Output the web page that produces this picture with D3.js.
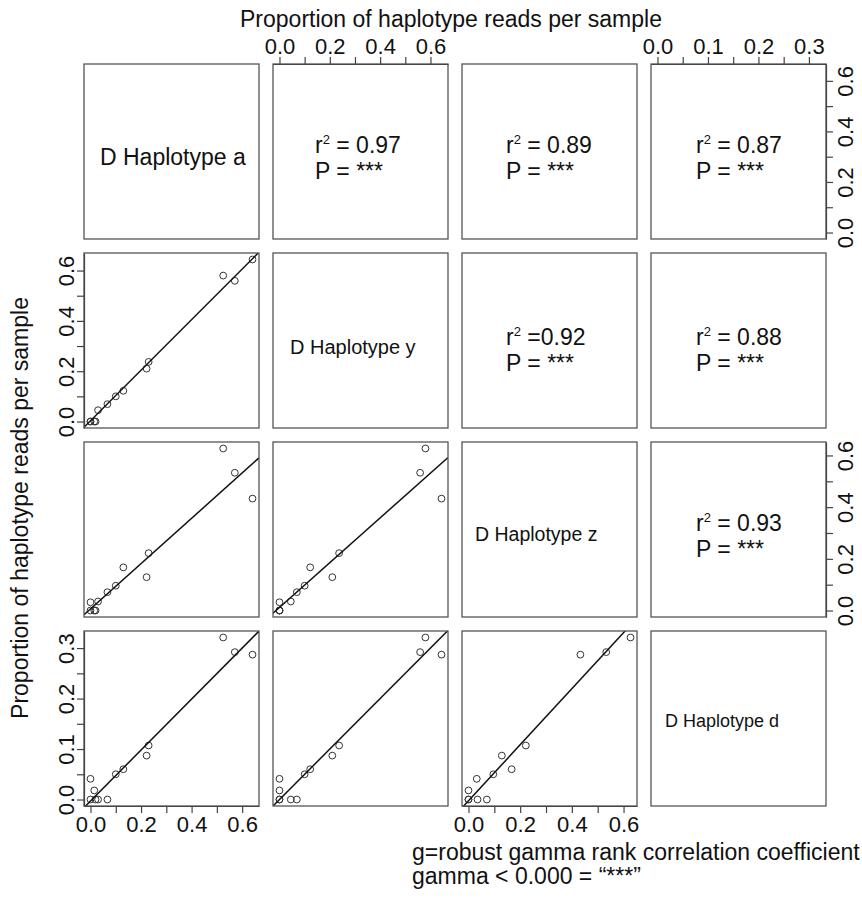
<!DOCTYPE html>
<html>
<head>
<meta charset="utf-8">
<script src="https://cdn.jsdelivr.net/npm/d3@7"></script>
<style>
  body { margin: 0; background: #fff; }
  svg text { font-family: "Liberation Sans", Arial, sans-serif; fill: #111; }
</style>
</head>
<body>
<div id="chart"></div>
<script>
// Layout of the pairs matrix
const w = 862;
const h = 900;
const gridLeft = 84;
const gridTop = 64;
const cell = 175;
const gap = 14;

// Proportion of haplotype reads per sample (13 samples)
const hapA = [0.525, 0.571, 0.641, 0.230, 0.222, 0.130, 0.100, 0.067, 0.030, 0.000, 0.015, 0.000, 0.020];
const hapY = [0.580, 0.559, 0.644, 0.237, 0.210, 0.122, 0.100, 0.069, 0.045, 0.000, 0.000, 0.000, 0.000];
const hapZ = [0.627, 0.533, 0.433, 0.222, 0.129, 0.167, 0.096, 0.071, 0.035, 0.032, 0.000, 0.000, 0.000];
const hapD = [0.321, 0.292, 0.287, 0.107, 0.087, 0.060, 0.050, 0.000, 0.000, 0.041, 0.018, 0.000, 0.000];

const variables = [hapA, hapY, hapZ, hapD];
const diagLabels = ["D Haplotype a", "D Haplotype y", "D Haplotype z", "D Haplotype d"];

// fitted lines in the lower panels: row, col, intercept, slope
const fitRow = [1, 2, 3, 2, 3, 3];
const fitCol = [0, 0, 0, 1, 1, 2];
const fitIntercept = [0.003, 0.006, -0.003, 0.012, 0.000, -0.0025];
const fitSlope = [1.005, 0.877, 0.505, 0.866, 0.500, 0.555];

// upper panels: r squared and significance
const corrRow = [0, 0, 0, 1, 1, 2];
const corrCol = [1, 2, 3, 2, 3, 3];
const corrText = ["= 0.97", "= 0.89", "= 0.87", "=0.92", "= 0.88", "= 0.93"];
const corrP = ["P = ***", "P = ***", "P = ***", "P = ***", "P = ***", "P = ***"];

// tick values
const ticksWide = [0, 0.1, 0.2, 0.3, 0.4, 0.5, 0.6];
const labelsWide = [0, 0.2, 0.4, 0.6];
const ticksNarrow = [0, 0.05, 0.1, 0.15, 0.2, 0.25, 0.3];
const labelsNarrow = [0, 0.1, 0.2, 0.3];

const titleText = "Proportion of haplotype reads per sample";
const noteLines = ["g=robust gamma rank correlation coefficient", "gamma < 0.000 = \u201c***\u201d"];

// placement of the diagonal labels inside their boxes (left edge, baseline, size)
const diagX = [16, 17, 13, 14];
const diagY = [101, 101, 99, 96];
const diagSize = [23, 20, 19.5, 18];

const svg = d3.select("#chart").append("svg")
  .attr("width", w)
  .attr("height", h);

const cellX = i => gridLeft + i * (cell + gap);
const cellY = i => gridTop + i * (cell + gap);

// one scale per variable, range padded by 4% like R's pairs()
function padded(values) {
  const ext = d3.extent(values);
  const pad = (ext[1] - ext[0]) * 0.04;
  return [ext[0] - pad, ext[1] + pad];
}
const xScales = variables.map(v => d3.scaleLinear().domain(padded(v)).range([0, cell]));
const yScales = variables.map(v => d3.scaleLinear().domain(padded(v)).range([cell, 0]));

// clip path for the lines
svg.append("defs").append("clipPath").attr("id", "cellClip")
  .append("rect").attr("width", cell).attr("height", cell);

const cells = [];
for (let r = 0; r < 4; r++) {
  for (let c = 0; c < 4; c++) cells.push({ r, c });
}

const panels = svg.selectAll("g.panel")
  .data(cells)
  .enter()
  .append("g")
  .attr("class", "panel")
  .attr("transform", d => `translate(${cellX(d.c)},${cellY(d.r)})`);

// scatter points in the lower panels
panels.filter(d => d.r > d.c).each(function (d) {
  const g = d3.select(this);
  const xs = variables[d.c];
  const ys = variables[d.r];
  g.selectAll("circle")
    .data(xs.map((x, i) => [x, ys[i]]))
    .enter()
    .append("circle")
    .attr("cx", p => xScales[d.c](p[0]))
    .attr("cy", p => yScales[d.r](p[1]))
    .attr("r", 3.4)
    .attr("fill", "none")
    .attr("stroke", "#333")
    .attr("stroke-width", 1);
});

// fitted lines
fitRow.forEach((r, i) => {
  const c = fitCol[i];
  const xd = xScales[c].domain();
  const g = panels.filter(d => d.r === r && d.c === c);
  g.append("line")
    .attr("clip-path", "url(#cellClip)")
    .attr("x1", xScales[c](xd[0]))
    .attr("y1", yScales[r](fitIntercept[i] + fitSlope[i] * xd[0]))
    .attr("x2", xScales[c](xd[1]))
    .attr("y2", yScales[r](fitIntercept[i] + fitSlope[i] * xd[1]))
    .attr("stroke", "#111")
    .attr("stroke-width", 1.5);
});

// panel boxes
panels.append("rect")
  .attr("width", cell)
  .attr("height", cell)
  .attr("fill", "none")
  .attr("stroke", "#555")
  .attr("stroke-width", 1.3);

// diagonal labels
panels.filter(d => d.r === d.c).append("text")
  .attr("x", d => diagX[d.r])
  .attr("y", d => diagY[d.r])
  .style("font-size", d => diagSize[d.r] + "px")
  .text(d => diagLabels[d.r]);

// correlation text
corrRow.forEach((r, i) => {
  const c = corrCol[i];
  const g = panels.filter(d => d.r === r && d.c === c);
  const x0 = c === 1 ? 42 : (c === 2 ? 44 : 45);
  const y0 = r === 1 ? 92 : 89;
  const t = g.append("text")
    .attr("x", x0)
    .attr("y", y0)
    .style("font-size", "23px");
  t.append("tspan").text("r");
  t.append("tspan").attr("dy", -9).style("font-size", "13px").text("2");
  t.append("tspan").attr("dy", 9).text(" " + corrText[i]);
  g.append("text")
    .attr("x", x0)
    .attr("y", y0 + 26)
    .style("font-size", "23px")
    .text(corrP[i]);
});

// axes
function styleAxis(sel) {
  sel.selectAll("path").attr("stroke", "#444").attr("stroke-width", 1.2);
  sel.selectAll("line").attr("stroke", "#444").attr("stroke-width", 1.2);
  sel.selectAll("text")
    .style("font-size", "22px")
    .style("font-family", "\"Liberation Sans\", Arial, sans-serif")
    .attr("fill", "#111");
}
const fmt = labels => v => labels.some(l => Math.abs(l - v) < 1e-9) ? d3.format(".1f")(v) : "";
const ticksFor = i => i === 3 ? [ticksNarrow, labelsNarrow] : [ticksWide, labelsWide];

function axisFor(kind, i, scale) {
  const [tv, lv] = ticksFor(i);
  return kind(scale).tickValues(tv).tickFormat(fmt(lv)).tickSize(7).tickSizeOuter(0);
}

// top: columns 2 and 4
[1, 3].forEach(c => {
  const g = svg.append("g")
    .attr("transform", `translate(${cellX(c)},${gridTop})`)
    .call(axisFor(d3.axisTop, c, xScales[c]).tickPadding(3));
  styleAxis(g);
});
// bottom: columns 1 and 3
[0, 2].forEach(c => {
  const g = svg.append("g")
    .attr("transform", `translate(${cellX(c)},${cellY(3) + cell})`)
    .call(axisFor(d3.axisBottom, c, xScales[c]).tickPadding(3));
  styleAxis(g);
});
// left: rows 2 and 4
[1, 3].forEach(r => {
  const g = svg.append("g")
    .attr("transform", `translate(${gridLeft},${cellY(r)})`)
    .call(axisFor(d3.axisLeft, r, yScales[r]));
  styleAxis(g);
  g.selectAll(".tick text")
    .attr("x", 0).attr("dy", null)
    .attr("transform", "translate(-10,0) rotate(-90)")
    .attr("text-anchor", "middle");
});
// right: rows 1 and 3
[0, 2].forEach(r => {
  const g = svg.append("g")
    .attr("transform", `translate(${cellX(3) + cell},${cellY(r)})`)
    .call(axisFor(d3.axisRight, r, yScales[r]));
  styleAxis(g);
  g.selectAll(".tick text")
    .attr("x", 0).attr("dy", null)
    .attr("transform", "translate(27,0) rotate(-90)")
    .attr("text-anchor", "middle");
});

// titles
svg.append("text")
  .attr("x", 451)
  .attr("y", 27)
  .attr("text-anchor", "middle")
  .style("font-size", "23px")
  .text(titleText);

svg.append("text")
  .attr("transform", "translate(28,508) rotate(-90)")
  .attr("text-anchor", "middle")
  .style("font-size", "23px")
  .text(titleText);

// footnote
svg.selectAll("text.note")
  .data(noteLines)
  .enter()
  .append("text")
  .attr("class", "note")
  .attr("x", 412)
  .attr("y", (d, i) => 860 + i * 24)
  .style("font-size", "23px")
  .text(d => d);
</script>
</body>
</html>
